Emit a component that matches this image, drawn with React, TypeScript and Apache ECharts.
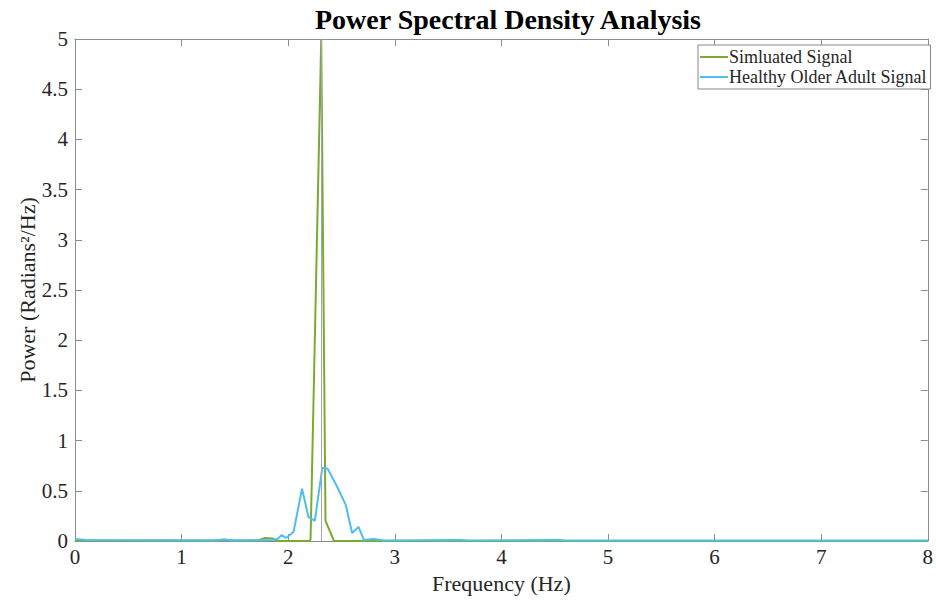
import React, { useEffect, useRef } from "react";
import * as echarts from "echarts";

const TITLE = "Power Spectral Density Analysis";
const X_LABEL = "Frequency (Hz)";
const Y_LABEL = "Power (Radians²/Hz)";
const SERIES_NAMES = ["Simluated Signal", "Healthy Older Adult Signal"];

// [frequency (Hz), power]
const simulatedSignal: [number, number][] = [
  [0, 0.005], [1.3, 0.005], [1.4, 0.012], [1.5, 0.005], [1.72, 0.005], [1.78, 0.03],
  [1.85, 0.025], [1.9, 0.0], [2.2, 0.0], [2.21, 0.02], [2.31, 5.0], [2.35, 0.2],
  [2.43, 0.0], [8, 0.0],
];

const olderAdultSignal: [number, number][] = [
  [0, 0.02], [0.1, 0.01], [1.3, 0.005], [1.4, 0.015], [1.5, 0.005], [1.85, 0.01],
  [1.9, 0.02], [1.94, 0.06], [1.98, 0.03], [2.05, 0.09], [2.13, 0.52], [2.19, 0.24],
  [2.25, 0.2], [2.32, 0.73], [2.37, 0.72], [2.45, 0.56], [2.54, 0.36], [2.6, 0.08],
  [2.66, 0.14], [2.71, 0.01], [2.8, 0.02], [2.9, 0.005], [3.6, 0.01], [3.7, 0.005],
  [4.55, 0.01], [4.6, 0.005], [8, 0.005],
];

const PEAK_MARKER = 2.315;

const FONT = "'Liberation Serif', 'Times New Roman', serif";
const AXIS_COLOR = "#8c8c8c";
const TEXT_COLOR = "#262626";

export default function App() {
  const ref = useRef<HTMLDivElement>(null);
  useEffect(() => {
    if (!ref.current) return;
    const chart = echarts.init(ref.current, undefined, { renderer: "svg" });
    const line = () => ({ show: true, onZero: false, lineStyle: { color: AXIS_COLOR } });
    const tick = () => ({ show: true, inside: true, length: 7, lineStyle: { color: AXIS_COLOR } });
    chart.setOption({
      animation: false,
      backgroundColor: "#ffffff",
      title: {
        text: TITLE,
        left: 503,
        textAlign: "center",
        top: 0,
        textStyle: { fontFamily: FONT, fontWeight: "bold", fontSize: 28, color: "#000" },
      },
      legend: {
        orient: "vertical",
        left: 698,
        top: 45,
        padding: [3, 3, 3, 2],
        itemGap: 2,
        itemWidth: 28,
        itemHeight: 2,
        icon: "rect",
        borderColor: "#888",
        borderWidth: 1,
        backgroundColor: "#fff",
        data: SERIES_NAMES,
        textStyle: { fontFamily: FONT, fontSize: 18, color: TEXT_COLOR, padding: [0, 0, 0, -4] },
      },
      grid: { left: 75, right: 4, top: 39, bottom: 59 },
      xAxis: [
        {
          type: "value",
          min: 0,
          max: 8,
          interval: 1,
          name: X_LABEL,
          nameLocation: "middle",
          nameGap: 31,
          nameMoveOverlap: false,
          nameTextStyle: { fontFamily: FONT, fontSize: 22, color: TEXT_COLOR },
          axisLine: line(),
          axisTick: tick(),
          axisLabel: { fontFamily: FONT, fontSize: 21, color: TEXT_COLOR, margin: 5 },
          splitLine: { show: false },
        },
        {
          type: "value",
          position: "top",
          min: 0,
          max: 8,
          interval: 1,
          axisLine: line(),
          axisTick: tick(),
          axisLabel: { show: false },
          splitLine: { show: false },
        },
      ],
      yAxis: [
        {
          type: "value",
          min: 0,
          max: 5,
          interval: 0.5,
          name: Y_LABEL,
          nameLocation: "middle",
          nameGap: 37,
          nameMoveOverlap: false,
          nameTextStyle: { fontFamily: FONT, fontSize: 22, color: TEXT_COLOR },
          axisLine: line(),
          axisTick: tick(),
          axisLabel: { fontFamily: FONT, fontSize: 21, color: TEXT_COLOR, margin: 7 },
          splitLine: { show: false },
        },
        {
          type: "value",
          position: "right",
          min: 0,
          max: 5,
          interval: 0.5,
          axisLine: line(),
          axisTick: tick(),
          axisLabel: { show: false },
          splitLine: { show: false },
        },
      ],
      series: [
        {
          name: SERIES_NAMES[0],
          type: "line",
          data: simulatedSignal,
          showSymbol: false,
          symbol: "none",
          lineStyle: { color: "#77AC30", width: 2 },
          itemStyle: { color: "#77AC30" },
          z: 2,
        },
        {
          name: SERIES_NAMES[1],
          type: "line",
          data: olderAdultSignal,
          showSymbol: false,
          symbol: "none",
          lineStyle: { color: "#4DBEEE", width: 2 },
          itemStyle: { color: "#4DBEEE" },
          z: 3,
          markLine: {
            silent: true,
            symbol: "none",
            label: { show: false },
            lineStyle: { color: "#a3a3b5", width: 1, type: "solid" },
            data: [{ xAxis: PEAK_MARKER }],
          },
        },
      ],
    });
    return () => chart.dispose();
  }, []);
  return <div ref={ref} style={{ width: 936, height: 600, position: "absolute", left: 0, top: 0 }} />;
}
